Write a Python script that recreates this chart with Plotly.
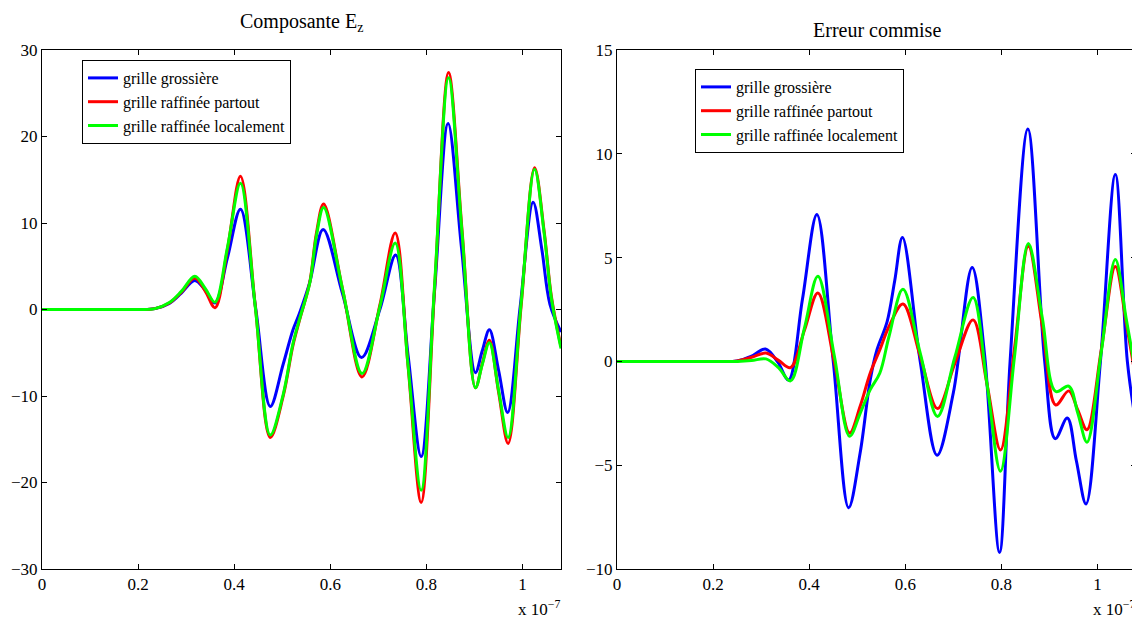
import plotly.graph_objects as go

# time axis in units of 1e-7 s
# ---- Left panel: Composante Ez ----
ez_blue_t = [0, 0.1, 0.2, 0.235, 0.265, 0.29, 0.318, 0.34, 0.36, 0.386, 0.413, 0.445, 0.475, 0.502, 0.522,
             0.536, 0.557, 0.585, 0.625, 0.665, 0.703, 0.736, 0.762, 0.789, 0.817, 0.845, 0.873, 0.902,
             0.916, 0.931, 0.95, 0.969, 0.995, 1.022, 1.04, 1.057, 1.08]
ez_blue_v = [0, 0, 0, 0.1, 0.7, 1.9, 3.35, 2.2, 0.75, 6.0, 11.6, 0.0, -11.2, -6.3, -2.4,
             -0.4, 3.1, 9.25, 1.9, -5.55, 0.0, 6.3, -5.4, -17.0, 2.2, 21.5, 7.1, -7.3,
             -4.8, -2.35, -7.0, -11.9, 0.3, 12.4, 7.0, 0.6, -2.6]

ez_ref_t = [0, 0.1, 0.2, 0.235, 0.265, 0.29, 0.318, 0.34, 0.36, 0.386, 0.413, 0.444, 0.475, 0.502, 0.522,
            0.536, 0.557, 0.571, 0.586, 0.626, 0.666, 0.703, 0.735, 0.762, 0.789, 0.817, 0.846, 0.874,
            0.902, 0.916, 0.931, 0.95, 0.97, 0.997, 1.025, 1.045, 1.06, 1.08]
ez_red_v = [0, 0, 0, 0.1, 0.75, 2.0, 3.65, 2.1, 0.2, 7.0, 15.4, 0.3, -14.8, -10.0, -4.2,
            -1.2, 3.1, 8.8, 12.2, 2.2, -7.8, 0.5, 8.85, -6.7, -22.3, 2.5, 27.4, 9.2,
            -9.05, -6.3, -3.55, -9.5, -15.5, 0.4, 16.4, 9.0, 1.5, -4.3]
ez_green_v = [0, 0, 0, 0.1, 0.8, 2.1, 3.85, 2.4, 0.85, 7.2, 14.6, 0.2, -14.5, -9.8, -4.0,
              -1.1, 3.0, 8.5, 11.8, 2.2, -7.4, 0.3, 7.7, -6.6, -20.9, 2.9, 26.8, 8.9,
              -9.05, -6.4, -3.85, -9.3, -14.8, 0.7, 16.2, 8.8, 1.3, -4.5]

# ---- Right panel: Erreur commise ----
err_blue_t = [0, 0.1, 0.2, 0.25, 0.28, 0.309, 0.335, 0.357, 0.386, 0.416, 0.45, 0.482, 0.506, 0.527,
              0.541, 0.562, 0.578, 0.594, 0.631, 0.666, 0.70, 0.739, 0.765, 0.796, 0.818, 0.855,
              0.89, 0.912, 0.937, 0.956, 0.976, 1.006, 1.037, 1.062, 1.08]
err_blue_v = [0, 0, 0, 0.02, 0.25, 0.6, -0.05, -0.9, 3.0, 7.08, 0.0, -7.05, -4.4, -0.88,
              0.56, 1.9, 3.9, 5.97, 0.0, -4.52, -1.5, 4.52, 0.3, -9.2, 0.0, 11.2,
              0.0, -3.72, -2.73, -4.8, -6.87, 0.0, 9.0, 0.0, -3.0]

err_ref_t = [0, 0.1, 0.2, 0.25, 0.28, 0.31, 0.336, 0.361, 0.39, 0.418, 0.452, 0.484, 0.506, 0.527,
             0.547, 0.566, 0.595, 0.631, 0.667, 0.703, 0.741, 0.77, 0.798, 0.827, 0.856, 0.885,
             0.913, 0.94, 0.959, 0.978, 1.008, 1.037, 1.06, 1.08]
err_red_v = [0, 0, 0, 0.02, 0.2, 0.4, 0.05, -0.3, 1.5, 3.3, 0.0, -3.45, -2.16, -0.56,
             0.56, 1.68, 2.77, 0.25, -2.27, -0.1, 2.0, -1.1, -4.27, 0.6, 5.55, 1.7,
             -2.1, -1.42, -2.35, -3.29, 0.6, 4.57, 1.8, -0.9]
err_green_v = [0, 0, 0, 0.0, 0.04, 0.12, -0.3, -0.94, 1.6, 4.1, 0.3, -3.6, -2.5, -1.36,
               -0.56, 1.2, 3.47, 0.4, -2.65, 0.2, 3.08, -1.1, -5.29, 0.2, 5.68, 2.1,
               -1.45, -1.19, -2.5, -3.89, 0.5, 4.91, 2.0, -0.6]

names = ["grille grossière", "grille raffinée partout", "grille raffinée localement"]
colors = ["#0000ff", "#ff0000", "#00ff00"]
x_ticks = [0, 0.2, 0.4, 0.6, 0.8, 1.0]
x_ticktext = ["0", "0.2", "0.4", "0.6", "0.8", "1"]

FONT = "Liberation Serif"

fig = go.Figure()

left = [(ez_blue_t, ez_blue_v), (ez_ref_t, ez_red_v), (ez_ref_t, ez_green_v)]
right = [(err_blue_t, err_blue_v), (err_ref_t, err_red_v), (err_ref_t, err_green_v)]

for (t, v), c, n in zip(left, colors, names):
    fig.add_trace(go.Scatter(x=t, y=v, mode="lines", name=n,
                             line=dict(color=c, width=3, shape="spline", smoothing=1.0),
                             xaxis="x", yaxis="y", legend="legend"))
for (t, v), c, n in zip(right, colors, names):
    fig.add_trace(go.Scatter(x=t, y=v, mode="lines", name=n,
                             line=dict(color=c, width=3, shape="spline", smoothing=1.0),
                             xaxis="x2", yaxis="y2", legend="legend2"))

# the page body has an 8px margin: the figure starts at (8, 8) in the window
OFF = 8
W, H = 1140 - OFF, 625 - OFF


def px_x(p):
    return (p - OFF) / W


def px_y(p):
    return 1 - (p - OFF) / H


xd1 = [px_x(42), px_x(561)]
xd2 = [px_x(617), px_x(1136)]
yd = [px_y(569), px_y(50)]

axis_common = dict(showline=True, linecolor="black", linewidth=1, mirror="ticks",
                   ticks="inside", ticklen=5, tickcolor="black", tickwidth=1,
                   showgrid=False, zeroline=False, automargin=False,
                   tickfont=dict(family=FONT, size=17, color="black"))

LEG_FONT = 16

fig.update_layout(
    template="none",
    width=W, height=H,
    margin=dict(l=0, r=0, t=0, b=0, pad=0, autoexpand=False),
    paper_bgcolor="white", plot_bgcolor="white",
    font=dict(family=FONT, size=17, color="black"),
    xaxis=dict(domain=xd1, range=[0, 1.08], tickvals=x_ticks, ticktext=x_ticktext,
               anchor="y", **axis_common),
    yaxis=dict(domain=yd, range=[-30, 30], tickvals=[-30, -20, -10, 0, 10, 20, 30],
               anchor="x", **axis_common),
    xaxis2=dict(domain=xd2, range=[0, 1.08], tickvals=x_ticks, ticktext=x_ticktext,
                anchor="y2", **axis_common),
    yaxis2=dict(domain=yd, range=[-10, 15], tickvals=[-10, -5, 0, 5, 10, 15],
                anchor="x2", **axis_common),
    legend=dict(x=px_x(82), y=px_y(60), xanchor="left", yanchor="top",
                bgcolor="white", bordercolor="black", borderwidth=1,
                font=dict(family=FONT, size=LEG_FONT, color="black"), tracegroupgap=0),
    legend2=dict(x=px_x(695), y=px_y(69), xanchor="left", yanchor="top",
                 bgcolor="white", bordercolor="black", borderwidth=1,
                 font=dict(family=FONT, size=LEG_FONT, color="black"), tracegroupgap=0),
    showlegend=True,
)

fig.add_annotation(text="Composante E<sub>z</sub>", xref="paper", yref="paper",
                   x=px_x((42 + 561) / 2), y=px_y(22), xanchor="center", yanchor="middle",
                   showarrow=False, font=dict(family=FONT, size=20, color="black"))
fig.add_annotation(text="Erreur commise", xref="paper", yref="paper",
                   x=px_x((617 + 1136) / 2), y=px_y(30), xanchor="center", yanchor="middle",
                   showarrow=False, font=dict(family=FONT, size=20, color="black"))
for xr in [561, 1136]:
    fig.add_annotation(text="x 10<sup>−7</sup>", xref="paper", yref="paper",
                       x=px_x(xr + 1), y=px_y(608), xanchor="right", yanchor="middle",
                       showarrow=False, font=dict(family=FONT, size=17, color="black"))

fig.write_html("out.html")
